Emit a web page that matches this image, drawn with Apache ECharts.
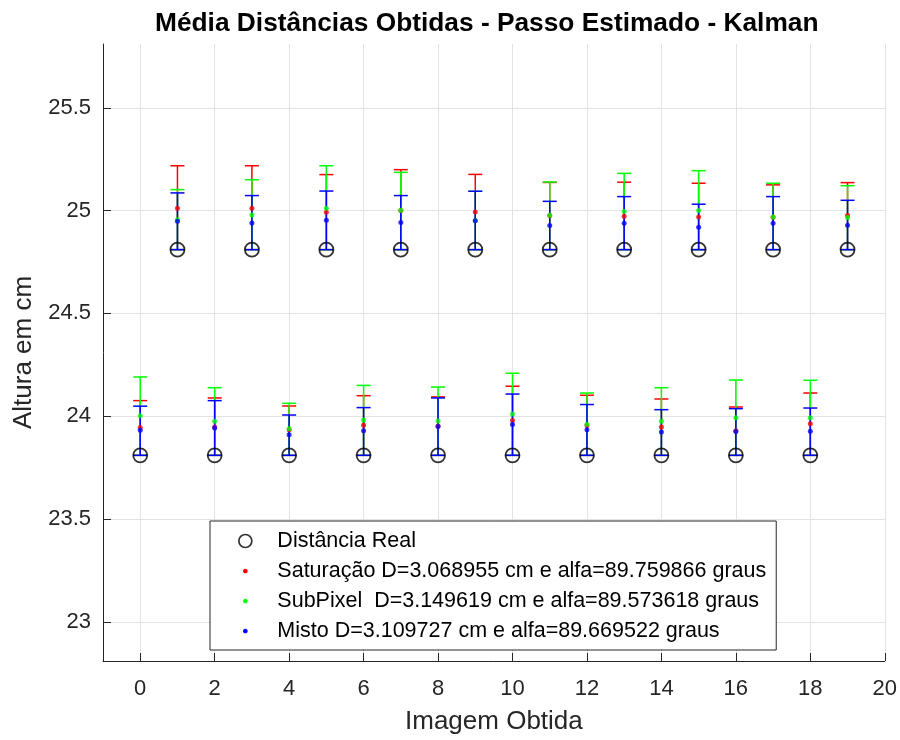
<!DOCTYPE html>
<html>
<head>
<meta charset="utf-8">
<script src="https://cdn.jsdelivr.net/npm/echarts@6/dist/echarts.min.js"></script>
<style>
  html, body { margin: 0; padding: 0; background: #ffffff; }
  #chart { width: 900px; height: 740px; }
</style>
</head>
<body>
<div id="chart"></div>
<script>
// Image index (x axis)
const imagem = [0, 1, 2, 3, 4, 5, 6, 7, 8, 9, 10, 11, 12, 13, 14, 15, 16, 17, 18, 19];

// Real distance for each image (cm)
const distReal = [23.81, 24.81, 23.81, 24.81, 23.81, 24.81, 23.81, 24.81, 23.81, 24.81,
                  23.81, 24.81, 23.81, 24.81, 23.81, 24.81, 23.81, 24.81, 23.81, 24.81];

// Saturação: mean and upper bound
const satMedia = [23.945, 25.011, 23.948, 25.011, 23.934, 24.992, 23.956, 25.000, 23.953, 24.993,
                  23.979, 24.976, 23.955, 24.972, 23.948, 24.969, 23.929, 24.968, 23.963, 24.976];
const satMax   = [24.076, 25.218, 24.089, 25.218, 24.050, 25.175, 24.100, 25.199, 24.094, 25.176,
                  24.146, 25.137, 24.102, 25.138, 24.084, 25.133, 24.045, 25.125, 24.113, 25.136];

// SubPixel: mean and upper bound
const subMedia = [24.002, 24.956, 23.976, 24.979, 23.939, 25.011, 23.982, 25.002, 23.977, 24.952,
                  24.011, 24.977, 23.961, 24.995, 23.976, 25.000, 23.993, 24.969, 23.993, 24.966];
const subMax   = [24.191, 25.102, 24.139, 25.150, 24.063, 25.218, 24.150, 25.186, 24.142, 25.094,
                  24.209, 25.139, 24.113, 25.181, 24.139, 25.194, 24.176, 25.133, 24.175, 25.121];

// Misto: mean and upper bound
const misMedia = [23.932, 24.948, 23.943, 24.940, 23.910, 24.953, 23.929, 24.942, 23.950, 24.951,
                  23.960, 24.927, 23.934, 24.938, 23.924, 24.919, 23.926, 24.938, 23.927, 24.929];
const misMax   = [24.049, 25.086, 24.076, 25.073, 24.006, 25.095, 24.042, 25.073, 24.089, 25.094,
                  24.108, 25.045, 24.057, 25.068, 24.032, 25.031, 24.037, 25.068, 24.040, 25.050];

// Tick positions
const xTicks = [0, 2, 4, 6, 8, 10, 12, 14, 16, 18, 20];
const yTicks = [23, 23.5, 24, 24.5, 25, 25.5];

// Legend labels
const nomeReal = 'Distância Real';
const nomeSat = 'Saturação D=3.068955 cm e alfa=89.759866 graus';
const nomeSub = 'SubPixel  D=3.149619 cm e alfa=89.573618 graus';
const nomeMis = 'Misto D=3.109727 cm e alfa=89.669522 graus';

const AXIS_COLOR = '#262626';
const GRID_COLOR = '#e3e3e3';
const FONT = '"Liberation Sans", Arial, Helvetica, sans-serif';

// Small dot legend icon inside a 14x14 box
const dotIcon = 'path://M0 0M14 14M7 4.5C8.4 4.5 9.5 5.6 9.5 7C9.5 8.4 8.4 9.5 7 9.5C5.6 9.5 4.5 8.4 4.5 7C4.5 5.6 5.6 4.5 7 4.5Z';

function barData(lo, hi) {
  return imagem.map((x, i) => [x, lo[i], hi[i]]);
}
function pointData(v) {
  return imagem.map((x, i) => [x, v[i]]);
}

// Vertical error bar with caps at both ends
function errorBarRenderer(color) {
  return function (params, api) {
    const x = api.value(0);
    const pLo = api.coord([x, api.value(1)]);
    const pHi = api.coord([x, api.value(2)]);
    const hw = 7;
    const style = { stroke: color, lineWidth: 1.5, fill: null };
    return {
      type: 'group',
      children: [
        { type: 'line', shape: { x1: pLo[0], y1: pLo[1], x2: pHi[0], y2: pHi[1] }, style: style },
        { type: 'line', shape: { x1: pHi[0] - hw, y1: pHi[1], x2: pHi[0] + hw, y2: pHi[1] }, style: style },
        { type: 'line', shape: { x1: pLo[0] - hw, y1: pLo[1], x2: pLo[0] + hw, y2: pLo[1] }, style: style }
      ]
    };
  };
}

function errorSeries(name, hi, color) {
  return {
    name: name,
    type: 'custom',
    coordinateSystem: 'cartesian2d',
    renderItem: errorBarRenderer(color),
    itemStyle: { color: color },
    encode: { x: 0, y: [1, 2] },
    data: barData(distReal, hi),
    silent: true
  };
}

function dotSeries(name, values, color) {
  return {
    name: name,
    type: 'scatter',
    symbol: 'circle',
    symbolSize: 5,
    itemStyle: { color: color },
    data: pointData(values),
    silent: true
  };
}

const chart = echarts.init(document.getElementById('chart'), null, { renderer: 'canvas' });

chart.setOption({
  animation: false,
  backgroundColor: '#ffffff',
  textStyle: { fontFamily: FONT },
  title: {
    text: 'Média Distâncias Obtidas - Passo Estimado - Kalman',
    left: 150,
    top: 6,
    padding: [5, 5, 5, 5],
    textStyle: { fontFamily: FONT, fontSize: 26.3, fontWeight: 'bold', color: '#000000' }
  },
  grid: { left: 103, right: 15, top: 44, bottom: 78, containLabel: false },
  legend: {
    orient: 'vertical',
    left: 210,
    top: 521,
    padding: [9, 10, 8, 28],
    itemWidth: 54,
    itemHeight: 13,
    itemGap: 8,
    backgroundColor: '#ffffff',
    borderColor: AXIS_COLOR,
    borderWidth: 1,
    borderRadius: 0,
    selectedMode: false,
    textStyle: { fontFamily: FONT, fontSize: 21.5, lineHeight: 22, color: '#000000' },
    data: [
      { name: nomeReal, icon: 'circle', itemStyle: { color: 'rgba(0,0,0,0)', borderColor: '#000000', borderWidth: 1.7 } },
      { name: nomeSat, icon: dotIcon, itemStyle: { color: '#ff0000', borderWidth: 0 } },
      { name: nomeSub, icon: dotIcon, itemStyle: { color: '#00ff00', borderWidth: 0 } },
      { name: nomeMis, icon: dotIcon, itemStyle: { color: '#0000ff', borderWidth: 0 } }
    ]
  },
  xAxis: {
    type: 'value',
    min: -1,
    max: 20,
    interval: 1,
    name: 'Imagem Obtida',
    nameLocation: 'middle',
    nameGap: 48,
    nameTextStyle: { fontFamily: FONT, fontSize: 26, color: AXIS_COLOR },
    axisLine: { show: true, onZero: false, lineStyle: { color: AXIS_COLOR, width: 1 } },
    axisTick: { show: true, inside: true, length: 8, customValues: xTicks, lineStyle: { color: AXIS_COLOR } },
    axisLabel: { customValues: xTicks, fontFamily: FONT, fontSize: 22, color: AXIS_COLOR, margin: 17 },
    splitLine: { show: true, lineStyle: { color: GRID_COLOR, width: 1 } }
  },
  yAxis: {
    type: 'value',
    min: 22.81,
    max: 25.81,
    splitNumber: 6,
    name: 'Altura em cm',
    nameLocation: 'middle',
    nameGap: 65,
    nameTextStyle: { fontFamily: FONT, fontSize: 26, color: AXIS_COLOR },
    axisLine: { show: true, onZero: false, lineStyle: { color: AXIS_COLOR, width: 1 } },
    axisTick: { show: true, inside: true, length: 8, customValues: yTicks, lineStyle: { color: AXIS_COLOR } },
    axisLabel: { customValues: yTicks, fontFamily: FONT, fontSize: 22, color: AXIS_COLOR, margin: 12 },
    splitLine: { show: true, lineStyle: { color: GRID_COLOR, width: 1 } }
  },
  series: [
    {
      name: nomeReal,
      type: 'scatter',
      symbol: 'circle',
      symbolSize: 14,
      itemStyle: { color: 'rgba(0,0,0,0)', borderColor: '#000000', borderWidth: 1.8 },
      data: pointData(distReal),
      silent: true
    },
    errorSeries(nomeSat, satMax, '#ff0000'),
    dotSeries(nomeSat, satMedia, '#ff0000'),
    errorSeries(nomeSub, subMax, '#00ff00'),
    dotSeries(nomeSub, subMedia, '#00ff00'),
    errorSeries(nomeMis, misMax, '#0000ff'),
    dotSeries(nomeMis, misMedia, '#0000ff')
  ]
});
</script>
</body>
</html>
